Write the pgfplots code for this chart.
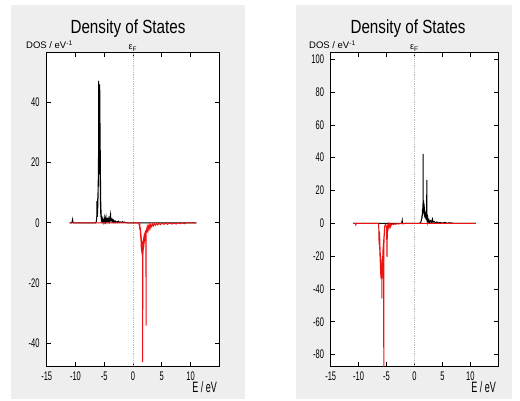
\documentclass[border=0pt]{standalone}
\usepackage{fontspec}
\setmainfont{Liberation Sans}
\newfontfamily\tickfont{Liberation Sans}[FakeStretch=0.6]
\newfontfamily\titlefont{Liberation Sans}[FakeStretch=0.8]
\usepackage{pgfplots}
\pgfplotsset{compat=1.18}

\definecolor{panelgray}{HTML}{EEEEEE}
\definecolor{spindown}{HTML}{EE1111}

% spin-up (black) and spin-down (red) densities of states
\pgfplotstableread{
E dos
-11 0
-10.7 0
-10.6 0.3
-10.5 1.1
-10.45 0.2
-10.3 0
-6.5 0
-6.4 0.3
-6.35 0.8
-6.3 2
-6.27 7.2
-6.25 3
-6.23 6
-6.21 2
-6.19 5
-6.17 3
-6.15 8
-6.13 4
-6.11 10
-6.09 5
-6.07 14
-6.05 8
-6.03 20
-6.01 12
-5.99 26
-5.98 18
-5.97 30
-5.96 47
-5.95 28
-5.94 31
-5.93 22
-5.92 30
-5.91 20
-5.9 32
-5.89 16
-5.88 31
-5.87 18
-5.86 34
-5.85 20
-5.84 30
-5.83 22
-5.82 31
-5.81 18
-5.8 30
-5.79 20
-5.78 45.8
-5.77 24
-5.76 30
-5.75 22
-5.74 30
-5.73 14
-5.72 28
-5.71 12
-5.7 33
-5.69 10
-5.68 24
-5.67 8
-5.66 22
-5.65 6
-5.64 14
-5.63 5
-5.62 12
-5.61 3
-5.6 7
-5.58 2
-5.57 6
-5.55 1.5
-5.52 2.5
-5.5 0.4
-5.4 0.2
-5.3 1.2
-5.25 0.4
-5.15 0.8
-5.1 0.3
-5.0 1.6
-4.95 0.5
-4.85 1.2
-4.8 0.5
-4.7 1.8
-4.65 0.6
-4.55 1.0
-4.5 0.4
-4.4 1.2
-4.3 0.5
-4.2 1.5
-4.1 0.5
-3.9 2.8
-3.85 0.8
-3.75 1.2
-3.65 0.4
-3.55 1.0
-3.45 0.3
-3.35 0.8
-3.25 0.2
-3.1 0.6
-3.0 0.1
-2.8 0.4
-2.7 0.1
-2.5 0.5
-2.4 0.1
-2.2 0.3
-2.0 0.1
-1.8 0.4
-1.7 0.1
-1.5 0.2
-1.2 0.1
-1.0 0
11 0
}\leftup

\pgfplotstableread{
E dos
-11 0
0.9 0
1.0 -0.3
1.1 -0.8
1.15 -1.5
1.2 -1
1.25 -2.5
1.28 -1.5
1.3 -4
1.32 -2.5
1.34 -5
1.36 -3
1.38 -6
1.4 -4
1.42 -8
1.44 -5
1.46 -9
1.48 -6
1.5 -9.5
1.52 -6
1.54 -10
1.56 -7
1.58 -10.5
1.6 -7
1.62 -11
1.64 -8
1.66 -10
1.68 -7
1.69 -46
1.7 -9
1.72 -10.5
1.74 -7
1.76 -10
1.78 -6
1.8 -9
1.82 -5.5
1.84 -8.5
1.86 -5
1.88 -8
1.9 -4.5
1.92 -7
1.94 -4
1.96 -6.5
1.98 -3.5
2.0 -6
2.03 -3.5
2.06 -5
2.1 -3
2.14 -4.5
2.18 -2.5
2.22 -4
2.25 -3
2.27 -34
2.29 -3
2.32 -2.5
2.38 -2
2.45 -3.2
2.5 -1.5
2.6 -2.6
2.7 -1.2
2.8 -2
2.9 -0.8
3.0 -1.6
3.1 -0.6
3.25 -1.3
3.4 -0.4
3.55 -1.0
3.7 -0.3
3.9 -0.8
4.1 -0.2
4.3 -0.7
4.5 -0.2
4.8 -0.6
5.0 -0.1
5.4 -0.5
5.6 -0.1
6.0 -0.5
6.2 -0.1
6.8 -0.4
7.0 -0.1
7.5 -0.4
7.7 0
8.3 -0.3
8.5 0
9.0 -0.3
9.2 0
11 0
}\leftdown

\pgfplotstableread{
E dos
-11 0
-2.3 0
-2.2 1.8
-2.15 0
0.9 0
1.1 0.5
1.2 1.5
1.3 3
1.35 5
1.38 3
1.4 8
1.42 5
1.45 9
1.48 6
1.5 12
1.52 8
1.54 42.3
1.56 9
1.58 13
1.6 8
1.62 14
1.64 7
1.66 11
1.68 6
1.7 12
1.72 5
1.74 9
1.76 5
1.78 10
1.8 4
1.82 8
1.84 4
1.86 8
1.88 3.5
1.9 6
1.93 3
1.95 7
1.98 3
2.0 5
2.03 2.5
2.05 5.5
2.08 2.5
2.1 4
2.13 2
2.15 5
2.18 2.5
2.2 26.4
2.22 3
2.25 2
2.3 2.5
2.35 1.2
2.4 3
2.5 1
2.6 2
2.7 0.6
2.85 1.5
3.0 0.5
3.2 2.6
3.3 0.4
3.5 1.2
3.7 0.3
4.0 0.8
4.3 0.2
4.6 0.5
5.0 0.1
5.5 0.6
5.7 0.1
6.5 0.3
7.0 0
11 0
}\rightup

\pgfplotstableread{
E dos
-11 0
-10.6 0
-10.5 -1
-10.4 0
-6.45 0
-6.4 -3
-6.37 -8
-6.34 -13
-6.31 -5
-6.28 -12
-6.26 -6
-6.24 -16
-6.22 -9
-6.2 -20
-6.18 -12
-6.16 -24
-6.14 -15
-6.12 -28
-6.1 -18
-6.08 -30
-6.06 -20
-6.04 -32
-6.02 -22
-6.0 -33
-5.98 -24
-5.96 -34
-5.94 -26
-5.92 -33
-5.9 -25
-5.88 -34
-5.86 -28
-5.85 -45.7
-5.84 -26
-5.82 -33
-5.8 -24
-5.78 -34
-5.76 -22
-5.74 -33
-5.72 -20
-5.7 -32
-5.68 -18
-5.66 -30
-5.64 -16
-5.62 -28
-5.6 -14
-5.58 -24
-5.56 -12
-5.54 -20
-5.52 -10
-5.5 -95
-5.48 -8
-5.46 -12
-5.44 -6
-5.42 -9
-5.4 -4
-5.37 -6
-5.34 -2
-5.3 -1.5
-5.2 -0.5
-5.1 -1
-5.0 -3
-4.92 -20.4
-4.85 -2
-4.78 -1
-4.7 -3
-4.6 -0.8
-4.5 -2.2
-4.4 -0.6
-4.3 -2
-4.2 -0.4
-4.1 -1
-3.9 -0.3
-3.7 -0.8
-3.5 -0.2
-3.3 -0.6
-3.1 -0.1
-2.8 -0.4
-2.5 -0.1
-2.0 -0.3
-1.5 0
11 0
}\rightdown

\pgfplotsset{
  dosaxis/.style={
    anchor=south west,
    scale only axis,
    axis background/.style={fill=white},
    axis line style={line width=1pt},
    xmin=-15, xmax=15,
    xtick={-15,-10,...,10},
    tick align=inside,
    major tick length=4pt,
    tick style={black, line width=0.7pt},
    /pgf/number format/assume math mode=true,
    ticklabel style={font=\tickfont\fontsize{12.5}{12.5}\selectfont, inner sep=0pt},
    xticklabel style={anchor=north, yshift=-6pt},
    clip=true,
  },
  upline/.style={black, line width=1pt},
  downline/.style={spindown, line width=1pt},
}

\begin{document}
\begin{tikzpicture}[x=1pt, y=1pt]
  \fill[white] (0,0) rectangle (520,400);
  \fill[panelgray] (11,1) rectangle (245,395);
  \fill[panelgray] (296,1) rectangle (512,395);

  % left panel
  \begin{axis}[dosaxis, at={(46.7pt,34pt)}, width=172.6pt, height=313.3pt,
      ymin=-47.4, ymax=56.3, ytick={-40,-20,...,40},
      yticklabel style={anchor=east, xshift=-7pt}]
    \draw[gray!55, densely dotted, line width=0.8pt]
      (axis cs:0,-47.4) -- (axis cs:0,56.3);
    \addplot[upline] table[x=E, y=dos] {\leftup};
    \addplot[downline] table[x=E, y=dos] {\leftdown};
  \end{axis}

  % right panel
  \begin{axis}[dosaxis, at={(330.7pt,34pt)}, width=167.6pt, height=313.3pt,
      ymin=-87, ymax=104, ytick={-80,-60,...,100},
      yticklabel style={anchor=east, xshift=-6.5pt}]
    \draw[gray!55, densely dotted, line width=0.8pt]
      (axis cs:0,-87) -- (axis cs:0,104);
    \addplot[upline] table[x=E, y=dos] {\rightup};
    \addplot[downline] table[x=E, y=dos] {\rightdown};
  \end{axis}

  % titles and axis labels
  \foreach \cx/\ax/\fx/\ex in {128/26/132.7/217, 408/309/414/496} {
    \node[anchor=base, inner sep=0pt, font=\titlefont\fontsize{19}{19}\selectfont]
      at (\cx,366) {Density of States};
    \node[anchor=base west, inner sep=0pt, font=\fontsize{9.5}{9.5}\selectfont]
      at (\ax,351) {DOS / eV\textsuperscript{-1}};
    \node[anchor=base, inner sep=0pt, font=\fontsize{9}{9}\selectfont]
      at (\fx,350) {ε\raisebox{-1.2pt}{\fontsize{6.5}{6.5}\selectfont F}};
    \node[anchor=base east, inner sep=0pt, font=\tickfont\fontsize{15}{15}\selectfont]
      at (\ex,7.5) {E / eV};
  }
\end{tikzpicture}
\end{document}
